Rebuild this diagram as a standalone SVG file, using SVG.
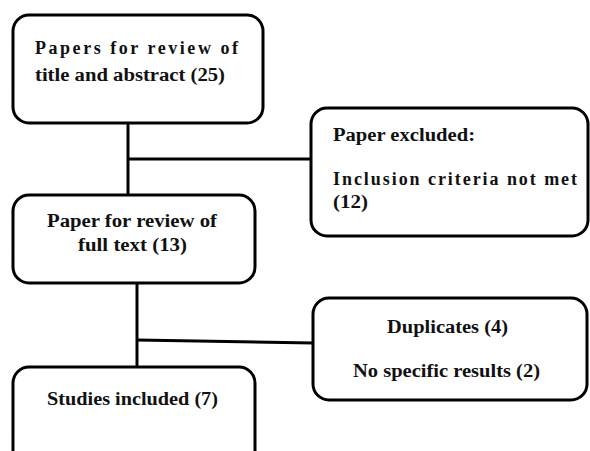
<svg xmlns="http://www.w3.org/2000/svg" width="590" height="451" viewBox="0 0 590 451">
<style>
.box{fill:#fff;stroke:#000;stroke-width:3}
.ln{stroke:#000;stroke-width:3;fill:none}
text{font-family:"Liberation Serif","Times New Roman",serif;font-size:18px;font-weight:bold;fill:#111}
</style>
<rect width="590" height="451" fill="#fff"/>
<g id="connectors">
<line class="ln" x1="128" y1="123" x2="128" y2="195"/>
<line class="ln" x1="128" y1="159" x2="311" y2="159"/>
<line class="ln" x1="137" y1="283" x2="137" y2="367"/>
<line class="ln" x1="137" y1="340" x2="313" y2="343"/>
</g>
<g id="n1">
<rect class="box" x="13" y="15" width="250" height="108" rx="16"/>
<text x="35" y="54" textLength="203" lengthAdjust="spacing">Papers for review of</text>
<text x="35" y="81" textLength="190" lengthAdjust="spacingAndGlyphs">title and abstract (25)</text>
</g>
<g id="n2">
<rect class="box" x="311" y="108" width="277" height="128" rx="16"/>
<text x="333" y="141" textLength="142" lengthAdjust="spacingAndGlyphs">Paper excluded:</text>
<text x="333" y="185" textLength="244" lengthAdjust="spacing">Inclusion criteria not met</text>
<text x="333" y="208" textLength="35" lengthAdjust="spacingAndGlyphs">(12)</text>
</g>
<g id="n3">
<rect class="box" x="13" y="195" width="242" height="88" rx="16"/>
<text x="47" y="227" textLength="170" lengthAdjust="spacingAndGlyphs">Paper for review of</text>
<text x="78" y="251" textLength="109" lengthAdjust="spacingAndGlyphs">full text (13)</text>
</g>
<g id="n4">
<rect class="box" x="313" y="298" width="274" height="102" rx="16"/>
<text x="387" y="333" textLength="121" lengthAdjust="spacingAndGlyphs">Duplicates (4)</text>
<text x="353" y="377" textLength="187" lengthAdjust="spacingAndGlyphs">No specific results (2)</text>
</g>
<g id="n5">
<rect class="box" x="13" y="367" width="242" height="100" rx="16"/>
<text x="47" y="405" textLength="171" lengthAdjust="spacingAndGlyphs">Studies included (7)</text>
</g>
</svg>
